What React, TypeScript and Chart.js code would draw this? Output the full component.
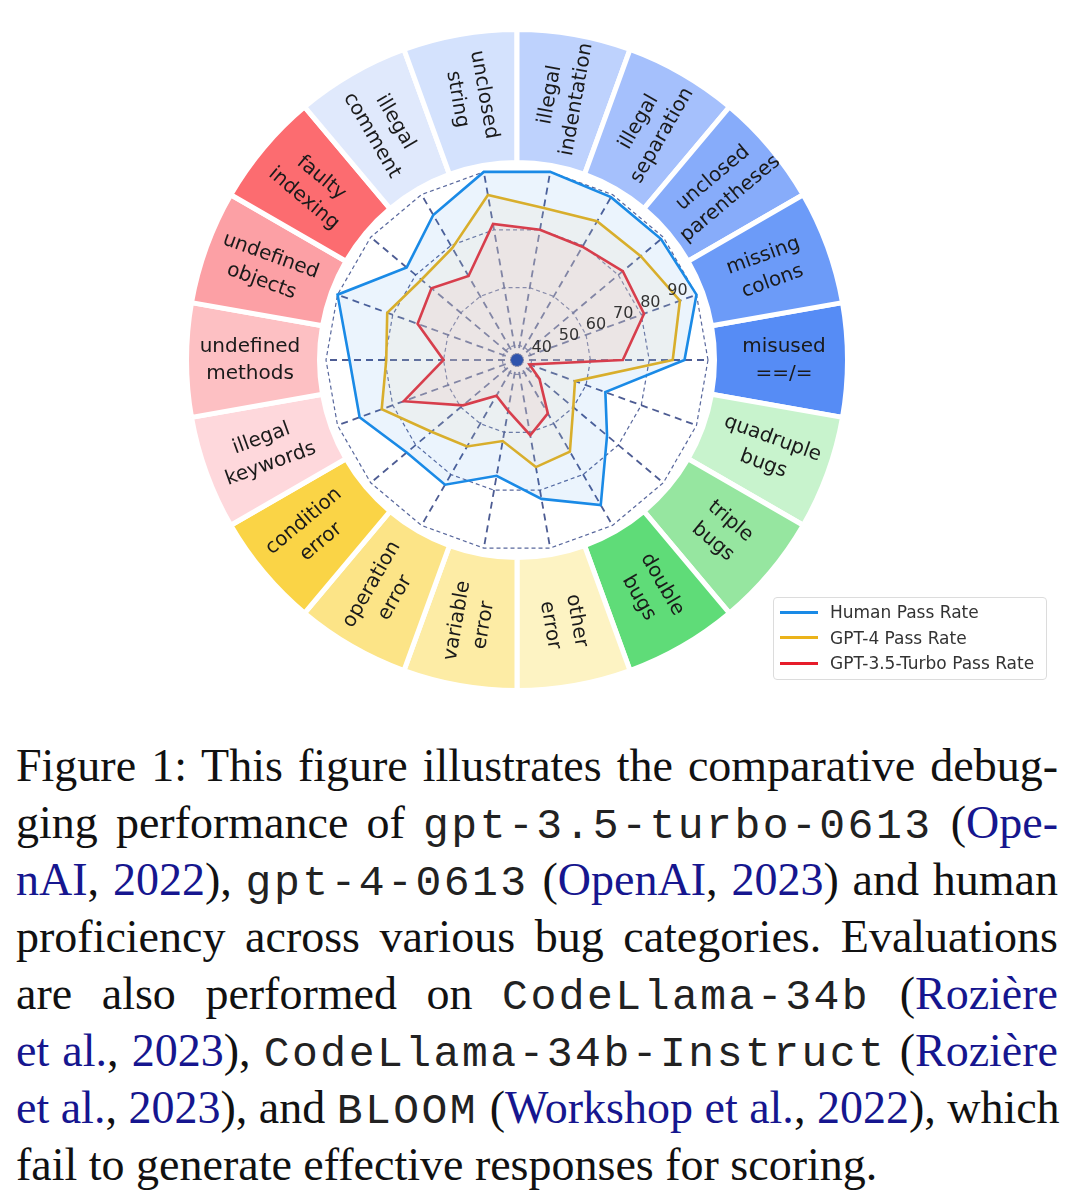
import React, { useEffect, useRef } from 'react';
import { Chart, registerables } from 'chart.js';

Chart.register(...registerables);

// Categories, clockwise starting at the right-hand side (3 o'clock)
const CATEGORIES = [
  'misused\n==/=',
  'quadruple\nbugs',
  'triple\nbugs',
  'double\nbugs',
  'other\nerror',
  'variable\nerror',
  'operation\nerror',
  'condition\nerror',
  'illegal\nkeywords',
  'undefined\nmethods',
  'undefined\nobjects',
  'faulty\nindexing',
  'illegal\ncomment',
  'unclosed\nstring',
  'illegal\nindentation',
  'illegal\nseparation',
  'unclosed\nparentheses',
  'missing\ncolons',
];

const RING_COLORS = [
  '#568cf5', '#c8f3cd', '#96e6a0', '#5fdc78', '#fdf3c3', '#fdeca5',
  '#fce487', '#fad446', '#fed8dc', '#fdc0c3', '#fca0a5', '#fc6c70',
  '#e0e9fc', '#d4e2fd', '#bed2fd', '#a5c0fc', '#87acfa', '#6c9bf8',
];

const RING_WEIGHTS = [1, 1, 1, 1, 1, 1, 1, 1, 1, 1, 1, 1, 1, 1, 1, 1, 1, 1];

const HUMAN = [92, 67, 75, 92, 83, 75, 84, 84, 92, 92, 100, 84, 92, 100, 100, 99, 99, 100];
const GPT4 = [88, 56, 60, 71, 72, 63, 69, 73, 84, 79.5, 82, 77.5, 79, 92, 87.5, 89.5, 90, 94];
const GPT35 = [71, 39.5, 45, 56, 61, 52.5, 49, 59, 76, 60, 71, 73, 68, 82, 80, 79.5, 82, 81];

const SERIES_NAMES = ['Human Pass Rate', 'GPT-4 Pass Rate', 'GPT-3.5-Turbo Pass Rate'];
const SERIES_COLORS = ['#1a8ae6', '#ebb31a', '#e61c2a'];
const SERIES_FILLS = ['rgba(30,136,229,0.09)', 'rgba(255,222,175,0.15)', 'rgba(255,200,185,0.24)'];

const TICK_LABELS = [40, 50, 60, 70, 80, 90];
const GRID_VALUES = [35, 40, 60, 80, 100];
const R_MIN = 35;
const R_MAX = 100;

const GRID_COLOR = 'rgba(60,78,140,0.85)';
const SPOKE_COLOR = 'rgba(58,74,135,0.9)';

const radarExtras = {
  id: 'radarExtras',
  afterDatasetsDraw(chart: any) {
    const s = chart.scales.r;
    const ctx = chart.ctx;
    ctx.save();
    ctx.font = '16px "DejaVu Sans"';
    ctx.fillStyle = '#333333';
    ctx.textAlign = 'left';
    ctx.textBaseline = 'bottom';
    const a = (22.5 * Math.PI) / 180;
    TICK_LABELS.forEach((v) => {
      const d = s.getDistanceFromCenterForValue(v);
      ctx.fillText(String(v), s.xCenter + d * Math.cos(a) + 1, s.yCenter - d * Math.sin(a) + 1);
    });
    ctx.beginPath();
    ctx.arc(s.xCenter, s.yCenter, 6, 0, Math.PI * 2);
    ctx.fillStyle = '#2f54ad';
    ctx.fill();
    ctx.restore();
  },
};

const ringLabels = {
  id: 'ringLabels',
  afterDatasetsDraw(chart: any) {
    const meta = chart.getDatasetMeta(0);
    const ctx = chart.ctx;
    ctx.save();
    ctx.font = '20px "DejaVu Sans"';
    ctx.fillStyle = '#1a1a1a';
    ctx.textAlign = 'center';
    ctx.textBaseline = 'middle';
    meta.data.forEach((arc: any, i: number) => {
      const p = arc.getProps(['x', 'y', 'startAngle', 'endAngle', 'innerRadius', 'outerRadius'], true);
      const mid = (p.startAngle + p.endAngle) / 2;
      const rr = (p.innerRadius + p.outerRadius) / 2 + 3;
      const x = p.x + rr * Math.cos(mid);
      const y = p.y + rr * Math.sin(mid);
      let theta = (-mid * 180) / Math.PI;
      theta = ((theta % 360) + 360) % 360;
      if (theta > 180) theta -= 360;
      let rot = theta;
      if (rot > 90) rot -= 180;
      if (rot < -90) rot += 180;
      ctx.save();
      ctx.translate(x, y);
      ctx.rotate((-rot * Math.PI) / 180);
      const lines = CATEGORIES[i].split('\n');
      const lh = 27;
      lines.forEach((ln, k) => ctx.fillText(ln, 0, (k - (lines.length - 1) / 2) * lh));
      ctx.restore();
    });
    ctx.restore();
  },
};

const mono: React.CSSProperties = {
  fontFamily: '"Liberation Mono", "DejaVu Sans Mono", monospace',
  fontSize: 43,
  letterSpacing: '2.5px',
  color: '#222',
};
const link: React.CSSProperties = { color: '#16168f' };

const lineStyle: React.CSSProperties = {
  textAlign: 'justify',
  textAlignLast: 'justify' as any,
  whiteSpace: 'nowrap',
  height: 57,
};

export default function App() {
  const ringRef = useRef<HTMLCanvasElement | null>(null);
  const radarRef = useRef<HTMLCanvasElement | null>(null);

  useEffect(() => {
    const ring = new Chart(ringRef.current as HTMLCanvasElement, {
      type: 'doughnut',
      data: {
        labels: CATEGORIES,
        datasets: [
          {
            data: RING_WEIGHTS,
            backgroundColor: RING_COLORS,
            borderColor: '#ffffff',
            borderWidth: 5,
          },
        ],
      },
      options: {
        responsive: false,
        animation: false,
        rotation: 80,
        cutout: '59.76%',
        radius: 330.5,
        layout: { padding: 0 },
        plugins: { legend: { display: false }, tooltip: { enabled: false } },
      } as any,
      plugins: [ringLabels],
    });

    const radar = new Chart(radarRef.current as HTMLCanvasElement, {
      type: 'radar',
      data: {
        labels: CATEGORIES,
        datasets: [HUMAN, GPT4, GPT35].map((d, i) => ({
          label: SERIES_NAMES[i],
          data: d,
          borderColor: SERIES_COLORS[i],
          backgroundColor: SERIES_FILLS[i],
          borderWidth: 2.6,
          fill: true,
          pointRadius: 0,
          pointHoverRadius: 0,
        })),
      },
      options: {
        responsive: false,
        animation: false,
        layout: { padding: 9 },
        plugins: { legend: { display: false }, tooltip: { enabled: false } },
        elements: { line: { tension: 0 } },
        scales: {
          r: {
            min: R_MIN,
            max: R_MAX,
            startAngle: 90,
            afterBuildTicks: (sc: any) => {
              sc.ticks = GRID_VALUES.map((v) => ({ value: v }));
            },
            ticks: { display: false },
            pointLabels: { display: false },
            grid: { circular: false, color: GRID_COLOR, lineWidth: 1.2, borderDash: [4, 3] },
            border: { dash: [4, 3] },
            angleLines: { color: SPOKE_COLOR, lineWidth: 1.8, borderDash: [7, 5] },
          },
        },
      } as any,
      plugins: [radarExtras],
    });

    return () => {
      ring.destroy();
      radar.destroy();
    };
  }, []);

  return (
    <div
      style={{
        position: 'absolute',
        left: 0,
        top: 0,
        width: 1080,
        height: 1201,
        overflow: 'hidden',
        background: '#ffffff',
      }}
    >
      <canvas
        ref={ringRef}
        width={680}
        height={680}
        style={{ position: 'absolute', left: 177, top: 20, width: 680, height: 680 }}
      />
      <canvas
        ref={radarRef}
        width={400}
        height={400}
        style={{ position: 'absolute', left: 317, top: 160, width: 400, height: 400 }}
      />
      <div
        style={{
          position: 'absolute',
          left: 773,
          top: 597,
          width: 272,
          height: 81,
          border: '1px solid #dcdcdc',
          borderRadius: 4,
          background: 'rgba(255,255,255,0.85)',
          fontFamily: '"DejaVu Sans", sans-serif',
          fontSize: 17,
          color: '#333',
        }}
      >
        {SERIES_NAMES.map((n, i) => (
          <div key={n} style={{ position: 'absolute', left: 0, top: 14 + i * 25.5 - 12, height: 24, width: 272 }}>
            <div
              style={{
                position: 'absolute',
                left: 6,
                top: 10.5,
                width: 38,
                height: 3,
                background: SERIES_COLORS[i],
              }}
            />
            <div style={{ position: 'absolute', left: 56, top: 0, lineHeight: '24px', whiteSpace: 'nowrap' }}>{n}</div>
          </div>
        ))}
      </div>
      <div
        style={{
          position: 'absolute',
          left: 16,
          top: 737,
          width: 1042,
          fontFamily: '"Liberation Serif", "Times New Roman", serif',
          fontSize: 46,
          lineHeight: '57px',
          color: '#111',
        }}
      >
        <div style={lineStyle}>Figure 1: This figure illustrates the comparative debug-</div>
        <div style={lineStyle}>
          ging performance of <span style={mono}>gpt-3.5-turbo-0613</span> (<span style={link}>Ope-</span>
        </div>
        <div style={lineStyle}>
          <span style={link}>nAI</span>, <span style={link}>2022</span>), <span style={mono}>gpt-4-0613</span> (
          <span style={link}>OpenAI</span>, <span style={link}>2023</span>) and human
        </div>
        <div style={lineStyle}>proficiency across various bug categories. Evaluations</div>
        <div style={lineStyle}>
          are also performed on <span style={mono}>CodeLlama-34b</span> (<span style={link}>Rozière</span>
        </div>
        <div style={lineStyle}>
          <span style={link}>et al.</span>, <span style={link}>2023</span>), <span style={mono}>CodeLlama-34b-Instruct</span> (
          <span style={link}>Rozière</span>
        </div>
        <div style={lineStyle}>
          <span style={link}>et al.</span>, <span style={link}>2023</span>), and <span style={mono}>BLOOM</span> (
          <span style={link}>Workshop et al.</span>, <span style={link}>2022</span>), which
        </div>
        <div style={{ ...lineStyle, textAlignLast: 'left' as any }}>fail to generate effective responses for scoring.</div>
      </div>
    </div>
  );
}
